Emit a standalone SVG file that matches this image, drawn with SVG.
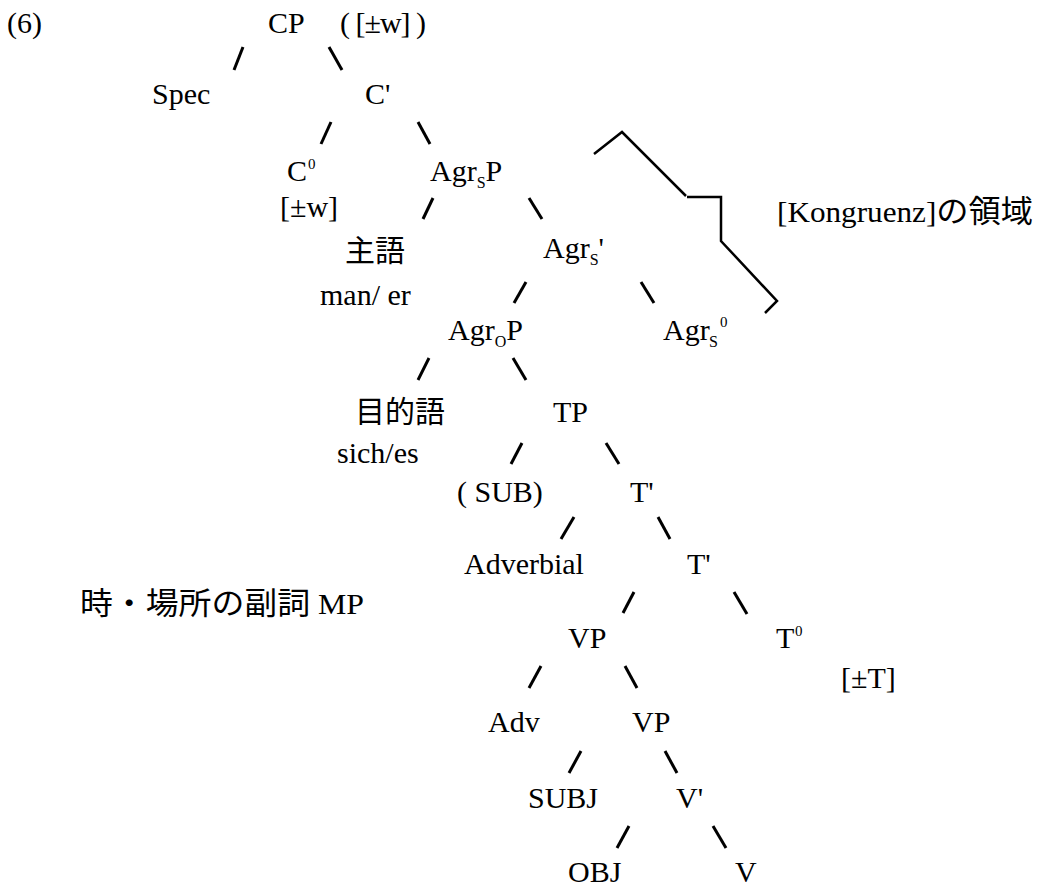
<svg xmlns="http://www.w3.org/2000/svg" width="1037" height="887" viewBox="0 0 1037 887">
<style>
  text { font-family: "Liberation Serif", "Times New Roman", serif; font-size: 30px; fill: #000; }
  .cjk { font-family: "Noto Sans CJK JP", "Noto Sans", sans-serif; font-size: 30px; }
  .sub { font-size: 16px; }
  .sup { font-size: 15px; }
  .edge { stroke: #000; stroke-width: 3; stroke-linecap: butt; fill: none; }
  .br { stroke: #000; stroke-width: 2.5; fill: none; stroke-linejoin: miter; }
</style>
<rect width="1037" height="887" fill="#fff"/>

<g id="label6"><text x="7" y="33">(6)</text></g>
<g id="CP"><text x="268" y="33">CP</text><text x="340" y="33" textLength="86" lengthAdjust="spacing">( [±w] )</text></g>
<g id="Spec"><text x="152" y="104">Spec</text></g>
<g id="Cbar"><text x="365" y="104">C'</text></g>
<g id="C0"><text x="287" y="181">C</text><text class="sup" x="308" y="169">0</text><text x="280" y="217">[±w]</text></g>
<g id="AgrSP"><text x="430" y="181">Agr<tspan class="sub" dy="7">S</tspan><tspan dy="-7">P</tspan></text></g>
<g id="Subject"><text class="cjk" x="345" y="261">主語</text><text x="320" y="305">man/ er</text></g>
<g id="AgrSbar"><text x="543" y="258">Agr<tspan class="sub" dy="7">S</tspan><tspan dy="-7">'</tspan></text></g>
<g id="AgrOP"><text x="448" y="340">Agr<tspan class="sub" dy="7">O</tspan><tspan dy="-7">P</tspan></text></g>
<g id="AgrS0"><text x="663" y="340">Agr</text><text class="sub" x="709" y="347">S</text><text class="sup" x="720" y="327">0</text></g>
<g id="Object"><text class="cjk" x="355" y="422">目的語</text><text x="337" y="463">sich/es</text></g>
<g id="TP"><text x="553" y="422">TP</text></g>
<g id="SUB"><text x="457" y="502">( SUB)</text></g>
<g id="Tbar1"><text x="630" y="502">T'</text></g>
<g id="Adverbial"><text x="464" y="574">Adverbial</text></g>
<g id="Tbar2"><text x="687" y="574">T'</text></g>
<g id="AdvNote"><text x="80" y="614" textLength="284" lengthAdjust="spacingAndGlyphs"><tspan class="cjk" style="font-size:31px">時・場所の副詞</tspan> MP</text></g>
<g id="VP1"><text x="568" y="648">VP</text></g>
<g id="T0"><text x="776" y="648">T</text><text class="sup" x="795" y="636">0</text><text x="841" y="688">[±T]</text></g>
<g id="Adv"><text x="488" y="732">Adv</text></g>
<g id="VP2"><text x="632" y="732">VP</text></g>
<g id="SUBJ"><text x="528" y="808">SUBJ</text></g>
<g id="Vbar"><text x="676" y="808">V'</text></g>
<g id="OBJ"><text x="568" y="882">OBJ</text></g>
<g id="V"><text x="735" y="882">V</text></g>

<g id="Kongruenz"><text x="777" y="222" textLength="256" lengthAdjust="spacingAndGlyphs">[Kongruenz]<tspan class="cjk" style="font-size:31px">の領域</tspan></text></g>

<g id="connectors">
  <line class="edge" x1="234" y1="70" x2="243" y2="47"/>
  <line class="edge" x1="329" y1="47" x2="342" y2="70"/>
  <line class="edge" x1="321" y1="144" x2="331" y2="122"/>
  <line class="edge" x1="418" y1="122" x2="430" y2="144"/>
  <line class="edge" x1="423" y1="219" x2="433" y2="198"/>
  <line class="edge" x1="529" y1="198" x2="542" y2="219"/>
  <line class="edge" x1="514" y1="303" x2="526" y2="282"/>
  <line class="edge" x1="641" y1="282" x2="654" y2="303"/>
  <line class="edge" x1="418" y1="380" x2="429" y2="358"/>
  <line class="edge" x1="513" y1="358" x2="526" y2="380"/>
  <line class="edge" x1="511" y1="464" x2="522" y2="443"/>
  <line class="edge" x1="606" y1="443" x2="619" y2="464"/>
  <line class="edge" x1="561" y1="539" x2="574" y2="517"/>
  <line class="edge" x1="658" y1="517" x2="670" y2="539"/>
  <line class="edge" x1="623" y1="613" x2="634" y2="592"/>
  <line class="edge" x1="734" y1="592" x2="747" y2="614"/>
  <line class="edge" x1="529" y1="688" x2="541" y2="666"/>
  <line class="edge" x1="625" y1="666" x2="637" y2="688"/>
  <line class="edge" x1="569" y1="773" x2="581" y2="751"/>
  <line class="edge" x1="665" y1="751" x2="677" y2="773"/>
  <line class="edge" x1="617" y1="848" x2="629" y2="826"/>
  <line class="edge" x1="713" y1="826" x2="726" y2="848"/>
</g>

<g id="bracket">
  <polyline class="br" points="594,154 622,132 686,196"/>
  <polyline class="br" points="687,197 721,197 721,241 777,301 765,313"/>
</g>
</svg>
